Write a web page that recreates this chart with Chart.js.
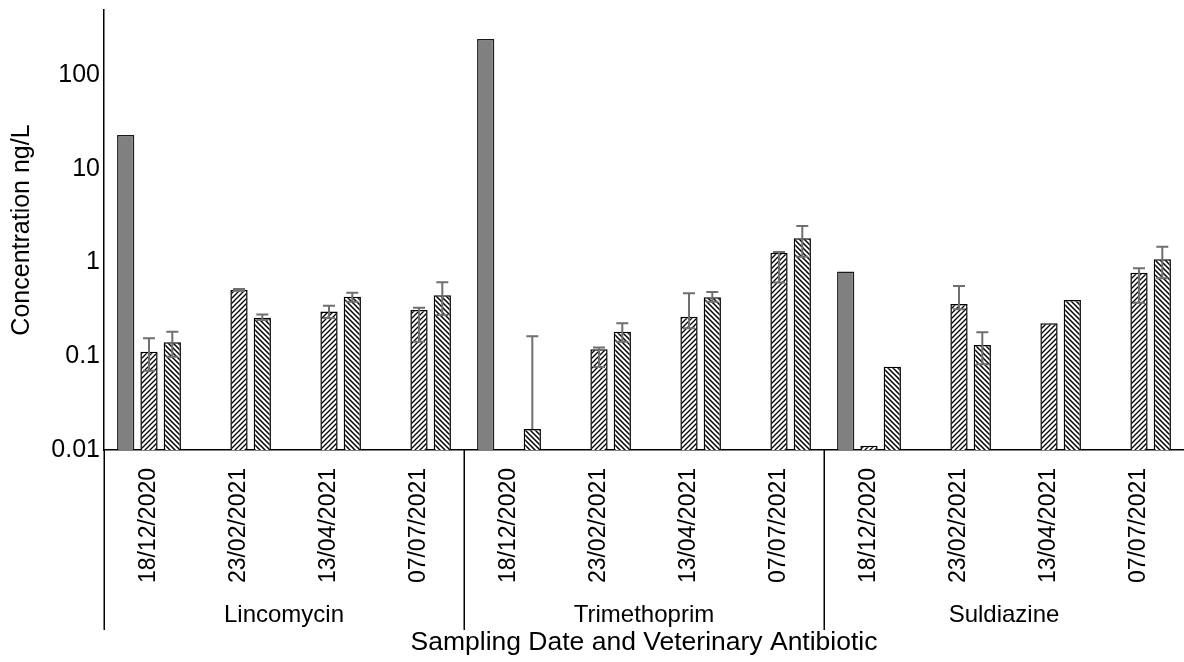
<!DOCTYPE html>
<html>
<head>
<meta charset="utf-8">
<script src="https://cdn.jsdelivr.net/npm/chart.js@4/dist/chart.umd.min.js"></script>
<style>
html, body { margin: 0; padding: 0; background: #fff; }
</style>
</head>
<body>
<canvas id="conc" width="1184" height="662"></canvas>
<script>
// 抗生物質ごとの採水日
var antibiotics = ["Lincomycin", "Trimethoprim", "Suldiazine"];
var dates = ["18/12/2020", "23/02/2021", "13/04/2021", "07/07/2021"];
var labels = [];
antibiotics.forEach(function (a) { dates.forEach(function (d) { labels.push(d); }); });

// 濃度 ng/L
var solidVals = [22.9, null, null, null, 242, null, null, null, 0.8, null, null, null];
var hatchAVals = [0.112, 0.51, 0.30, 0.311, null, 0.119, 0.264, 1.27, 0.0111, 0.361, 0.225, 0.778];
var hatchBVals = [0.141, 0.258, 0.432, 0.447, 0.0168, 0.183, 0.426, 1.81, 0.0774, 0.132, 0.398, 1.08];

// エラーバー (+ / -)
var hatchAPlus = [0.044, 0.012, 0.045, 0.018, 0, 0.005, 0.205, 0.02, 0, 0.2, 0, 0.09];
var hatchAMinus = [0.042, 0.012, 0.045, 0.168, 0, 0.042, 0.065, 0.66, 0, 0.044, 0, 0.405];
var hatchBPlus = [0.042, 0.021, 0.044, 0.168, 0.147, 0.042, 0.059, 0.64, 0, 0.048, 0, 0.39];
var hatchBMinus = [0.042, 0.014, 0.05, 0.172, 0, 0.04, 0.044, 0.66, 0, 0.05, 0, 0.4];

var yTicks = [0.01, 0.1, 1, 10, 100];

var FONT = "'Liberation Sans', Arial, sans-serif";

function hatch(dir) {
    var s = 5;
    var c = document.createElement("canvas");
    c.width = s; c.height = s;
    var g = c.getContext("2d");
    g.fillStyle = "#fff";
    g.fillRect(0, 0, s, s);
    g.strokeStyle = "#000";
    g.lineWidth = dir > 0 ? 1.3 : 1.5;
    g.beginPath();
    if (dir > 0) {
        g.moveTo(-1, s + 1); g.lineTo(s + 1, -1);
        g.moveTo(-1, 1); g.lineTo(1, -1);
        g.moveTo(s - 1, s + 1); g.lineTo(s + 1, s - 1);
    } else {
        g.moveTo(-1, -1); g.lineTo(s + 1, s + 1);
        g.moveTo(s - 1, -1); g.lineTo(s + 1, 1);
        g.moveTo(-1, s - 1); g.lineTo(1, s + 1);
    }
    g.stroke();
    return g.createPattern(c, "repeat");
}

var errorBars = {
    id: "errorBars",
    afterDatasetsDraw: function (chart) {
        var ctx = chart.ctx, y = chart.scales.y;
        ctx.save();
        ctx.strokeStyle = "#6f6f6f";
        ctx.lineWidth = 2;
        chart.data.datasets.forEach(function (ds, di) {
            if (!ds.errPlus) return;
            var meta = chart.getDatasetMeta(di);
            meta.data.forEach(function (bar, i) {
                var v = ds.data[i];
                if (v == null) return;
                var p = ds.errPlus[i], m = ds.errMinus[i];
                if (!p && !m) return;
                var yTop = y.getPixelForValue(v + p);
                var yBot = (v - m > 0) ? y.getPixelForValue(v - m) : y.getPixelForValue(v);
                var cx = bar.x, hw = 6;
                ctx.beginPath();
                ctx.moveTo(cx, yTop); ctx.lineTo(cx, yBot);
                if (p) { ctx.moveTo(cx - hw, yTop); ctx.lineTo(cx + hw, yTop); }
                if (m && v - m > 0) { ctx.moveTo(cx - hw, yBot); ctx.lineTo(cx + hw, yBot); }
                ctx.stroke();
            });
        });
        ctx.restore();
    }
};

var groupAxis = {
    id: "groupAxis",
    afterDraw: function (chart) {
        var ctx = chart.ctx, x = chart.scales.x, bottom = chart.chartArea.bottom;
        var n = dates.length;
        var step = x.getPixelForValue(1) - x.getPixelForValue(0);
        ctx.save();
        ctx.strokeStyle = "#000";
        ctx.lineWidth = 1.5;
        ctx.fillStyle = "#000";
        ctx.font = "24px " + FONT;
        ctx.textAlign = "center";
        ctx.textBaseline = "middle";
        antibiotics.forEach(function (a, g) {
            var first = x.getPixelForValue(g * n);
            var last = x.getPixelForValue(g * n + n - 1);
            var edge = Math.round(first - step / 2) + 0.25;
            ctx.beginPath();
            ctx.moveTo(edge, bottom);
            ctx.lineTo(edge, 630);
            ctx.stroke();
            ctx.fillText(a, (first + last) / 2, 615);
        });
        ctx.restore();
    }
};

var conc = document.getElementById("conc");
var concChart = new Chart(conc, {
    type: "bar",
    data: {
        labels: labels,
        datasets: [{
            data: solidVals,
            backgroundColor: "#808080",
            borderColor: "#1a1a1a",
            borderWidth: 1.5
        }, {
            data: hatchAVals,
            backgroundColor: hatch(1),
            borderColor: "#000",
            borderWidth: 1.5,
            errPlus: hatchAPlus,
            errMinus: hatchAMinus
        }, {
            data: hatchBVals,
            backgroundColor: hatch(-1),
            borderColor: "#000",
            borderWidth: 1.5,
            errPlus: hatchBPlus,
            errMinus: hatchBMinus
        }]
    },
    options: {
        responsive: false,
        animation: false,
        categoryPercentage: 0.777,
        barPercentage: 0.74,
        layout: { padding: { top: 10, right: 0, bottom: 0, left: 0 } },
        plugins: {
            legend: { display: false },
            tooltip: { enabled: false }
        },
        scales: {
            x: {
                grid: { display: false, drawTicks: false },
                border: { display: true, color: "#000", width: 1.5 },
                ticks: {
                    color: "#000",
                    font: { family: FONT, size: 23 },
                    minRotation: 90,
                    maxRotation: 90,
                    autoSkip: false,
                    padding: 18
                },
                title: {
                    display: true,
                    text: "Sampling Date and Veterinary Antibiotic",
                    color: "#000",
                    font: { family: FONT, size: 26.5 },
                    padding: { top: 0, bottom: 3 }
                },
                afterFit: function (s) { s.height = 212; s.paddingLeft = 0; s.paddingRight = 0; }
            },
            y: {
                type: "logarithmic",
                min: 0.01,
                max: 493,
                grid: { display: false, drawTicks: false },
                border: { display: true, color: "#000", width: 1.5 },
                afterBuildTicks: function (s) {
                    s.ticks = yTicks.map(function (v) { return { value: v }; });
                },
                ticks: {
                    color: "#000",
                    font: { family: FONT, size: 25 },
                    padding: 4,
                    callback: function (v) { return String(v); }
                },
                title: {
                    display: true,
                    text: "Concentration ng/L",
                    color: "#000",
                    font: { family: FONT, size: 25 },
                    padding: { top: 7, bottom: 0 }
                },
                afterFit: function (s) { s.width = 104; s.paddingTop = 0; s.paddingBottom = 0; }
            }
        }
    },
    plugins: [errorBars, groupAxis]
});
</script>
</body>
</html>
